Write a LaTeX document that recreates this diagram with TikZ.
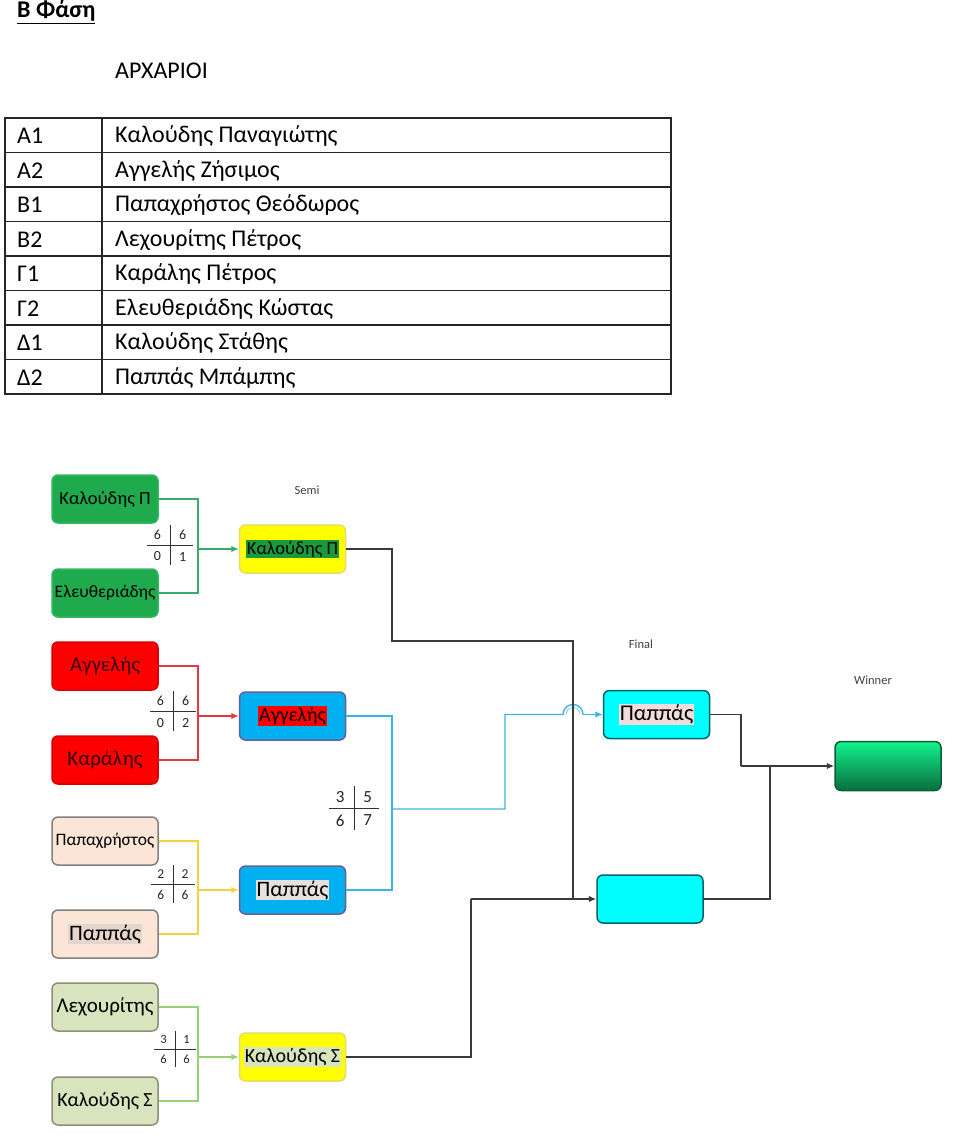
\documentclass[tikz,border=0pt]{standalone}
\usepackage{fontspec}
\setmainfont{Carlito}
\usetikzlibrary{arrows.meta}
\definecolor{gfill}{HTML}{1FAA4E}
\definecolor{gdraw}{HTML}{2FB860}
\definecolor{rfill}{HTML}{FF0000}
\definecolor{pfill}{HTML}{FBE5D6}
\definecolor{ofill}{HTML}{D7E4BD}
\definecolor{yfill}{HTML}{FFFF00}
\definecolor{bfill}{HTML}{00B0F0}
\definecolor{cfill}{HTML}{00FFFF}
\definecolor{lgreen}{HTML}{3AAA6A}
\definecolor{lred}{HTML}{E8383D}
\definecolor{lyellow}{HTML}{F5D040}
\definecolor{lolive}{HTML}{9BD07A}
\definecolor{lblue}{HTML}{3BB4E6}
\definecolor{ldark}{HTML}{3A3A3A}
\definecolor{hlgreen}{HTML}{1A9A3A}
\definecolor{hlpink}{HTML}{F2DCDB}
\definecolor{hlgray}{HTML}{E6E0E0}
\definecolor{wtop}{HTML}{12F28C}
\definecolor{wbot}{HTML}{0A6E3E}
\definecolor{wdraw}{HTML}{0B5E36}
\definecolor{bdraw}{HTML}{6A6090}
\newcommand{\hlt}[2]{{\setlength{\fboxsep}{1pt}\colorbox{#1}{#2}}}
\newcommand{\fs}[1]{\fontsize{#1}{#1}\selectfont}
\newcommand{\scorex}[9]{%
  \draw[scoreline] (#2-#8,#3) -- (#2+#8,#3);
  \draw[scoreline] (#2,#3-#8+3) -- (#2,#3+#8-3);
  \node[scnum,font=\fs{#9}] (#1a) at (#2-0.55*#8,#3-0.45*#8) {#4};
  \node[scnum,font=\fs{#9}] (#1b) at (#2+0.55*#8,#3-0.45*#8) {#5};
  \node[scnum,font=\fs{#9}] (#1c) at (#2-0.55*#8,#3+0.5*#8) {#6};
  \node[scnum,font=\fs{#9}] (#1d) at (#2+0.55*#8,#3+0.5*#8) {#7};
}
\begin{document}
\begin{tikzpicture}[x=1pt,y=-1pt,
  box/.style={draw, rounded corners=6pt, minimum width=106pt, minimum height=48pt, inner sep=0pt, line width=1.5pt, text=black},
  gleaf/.style={box, fill=gfill, draw=gdraw},
  rleaf/.style={box, fill=rfill, draw=rfill!85!black, text=black!80!red},
  pleaf/.style={box, fill=pfill, draw=gray},
  oleaf/.style={box, fill=ofill, draw=gray!85!olive},
  ysemi/.style={box, fill=yfill, draw=yellow!70!gray!80!white},
  bsemi/.style={box, fill=bfill, draw=bdraw},
  cfin/.style={box, fill=cfill, draw=teal!80!black},
  conn/.style={line width=1.4pt},
  tip/.style={-{Latex[length=7.5pt,width=6.5pt]}},
  scoreline/.style={line width=0.8pt, black!80},
  scnum/.style={inner sep=0pt, text=black!85},
  tag/.style={text=black!75, font=\fs{12.5}},
  tbl/.style={line width=1.2pt, black!85},
  cell/.style={anchor=west, inner sep=0pt, font=\fs{24}}
]
\useasboundingbox (0,0) rectangle (960,1139);
\fill[white] (0,0) rectangle (960,1139);

% ---------- header ----------
\node[anchor=west, inner sep=0pt, font=\fs{24}\bfseries] (title) at (17,12) {\underline{Β Φάση}};
\node[cell] (cat) at (115,71) {ΑΡΧΑΡΙΟΙ};

% ---------- table ----------
\draw[tbl] (5,118) rectangle (671,394);
\draw[tbl] (102,118) -- (102,394);
\foreach \yy in {152.5,187,221.5,256,290.5,325,359.5} {\draw[tbl] (5,\yy) -- (671,\yy);}
\node[cell] (k1) at (17,136) {Α1}; \node[cell] (n1) at (115,136) {Καλούδης Παναγιώτης};
\node[cell] (k2) at (17,171) {Α2}; \node[cell] (n2) at (115,171) {Αγγελής Ζήσιμος};
\node[cell] (k3) at (17,205) {Β1}; \node[cell] (n3) at (115,205) {Παπαχρήστος Θεόδωρος};
\node[cell] (k4) at (17,240) {Β2}; \node[cell] (n4) at (115,240) {Λεχουρίτης Πέτρος};
\node[cell] (k5) at (17,274) {Γ1}; \node[cell] (n5) at (115,274) {Καράλης Πέτρος};
\node[cell] (k6) at (17,309) {Γ2}; \node[cell] (n6) at (115,309) {Ελευθεριάδης Κώστας};
\node[cell] (k7) at (17,343) {Δ1}; \node[cell] (n7) at (115,343) {Καλούδης Στάθης};
\node[cell] (k8) at (17,378) {Δ2}; \node[cell] (n8) at (115,378) {Παππάς Μπάμπης};

% ---------- stage labels ----------
\node[tag] (lsemi) at (307,490) {Semi};
\node[tag] (lfinal) at (641,644) {Final};
\node[tag] (lwin) at (873,680) {Winner};

% ---------- first round ----------
\node[gleaf, font=\fs{18.5}] (g1) at (105,499) {Καλούδης Π};
\node[gleaf, font=\fs{17.5}] (g2) at (105,593) {Ελευθεριάδης};
\node[rleaf, font=\fs{21}] (r1) at (105,666) {Αγγελής};
\node[rleaf, font=\fs{21}] (r2) at (105,760) {Καράλης};
\node[pleaf, font=\fs{17.5}] (p1) at (105,841) {Παπαχρήστος};
\node[pleaf, font=\fs{22}] (p2) at (105,934) {\hlt{pfill!80!gray!90!white}{Παππάς}};
\node[oleaf, font=\fs{21}] (o1) at (105,1007) {Λεχουρίτης};
\node[oleaf, font=\fs{20}] (o2) at (105,1101) {Καλούδης Σ};

% ---------- semis ----------
\node[ysemi, font=\fs{18.5}] (s1) at (292.5,549) {\hlt{hlgreen}{Καλούδης Π}};
\node[bsemi, font=\fs{20}] (s2) at (292.5,716) {\hlt{rfill}{Αγγελής}};
\node[bsemi, font=\fs{22}] (s3) at (292.5,890) {\hlt{hlgray}{Παππάς}};
\node[ysemi, font=\fs{20}] (s4) at (292.5,1057) {\hlt{ofill}{Καλούδης Σ}};

% ---------- finals ----------
\node[cfin, font=\fs{22.5}] (f1) at (656.5,714.5) {\hlt{hlpink}{Παππάς}};
\node[cfin] (f2) at (650,899) {};
\node[box, top color=wtop, bottom color=wbot, draw=wdraw, minimum height=49pt] (w) at (888,766) {};

% ---------- first-round connectors ----------
\coordinate (jg) at (198,549);
\draw[conn, lgreen] (g1.east) -| (jg) |- (g2.east);
\draw[conn, lgreen, tip] (jg) -- (s1.west);
\coordinate (jr) at (198,716);
\draw[conn, lred] (r1.east) -| (jr) |- (r2.east);
\draw[conn, lred, tip] (jr) -- (s2.west);
\coordinate (jp) at (198,890);
\draw[conn, lyellow] (p1.east) -| (jp) |- (p2.east);
\draw[conn, lyellow, tip] (jp) -- (s3.west);
\coordinate (jo) at (198,1057);
\draw[conn, lolive] (o1.east) -| (jo) |- (o2.east);
\draw[conn, lolive, tip] (jo) -- (s4.west);

% ---------- scores ----------
\scorex{sa}{170}{545}{6}{6}{0}{1}{23}{14}
\scorex{sb}{173}{711}{6}{6}{0}{2}{23}{14}
\scorex{sc}{173}{884}{2}{2}{6}{6}{22}{13.5}
\scorex{sd}{175}{1049}{3}{1}{6}{6}{21}{12.5}
\scorex{se}{354}{808}{3}{5}{6}{7}{25}{17}

% ---------- semis to final ----------
\coordinate (jb) at (392,809);
\coordinate (jk) at (573,899);
\coordinate (jf) at (471,899);
\draw[conn, lblue] (s2.east) -| (jb) |- (s3.east);
\draw[conn, lblue] (jb) -- (505,809) -- (505,714.5) -- (563,714.5)
   arc[start angle=180, end angle=0, radius=10pt];
\draw[line width=0.8pt, lblue!70!white] (566,714.5) arc[start angle=180, end angle=0, radius=7pt];
\draw[conn, lblue, tip] (583,714.5) -- (f1.west);
\draw[conn, ldark] (s1.east) -| (392,641) -| (jk);
\draw[conn, ldark] (s4.east) -| (jf);
\draw[conn, ldark, tip] (jf) -- (f2.west);

% ---------- final to winner ----------
\coordinate (jw) at (741,766);
\draw[conn, ldark] (f1.east) -| (jw);
\draw[conn, ldark] (f2.east) -| (770,766);
\draw[conn, ldark, tip] (jw) -- (w.west);
\end{tikzpicture}
\end{document}
